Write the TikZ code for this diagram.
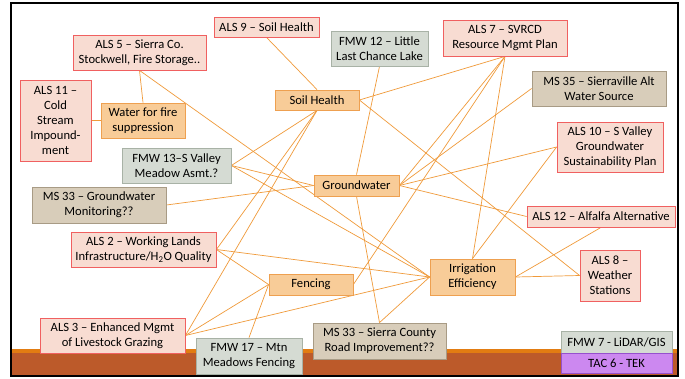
\documentclass[tikz,border=0pt]{standalone}
\usepackage{fontspec}
\setmainfont{Carlito}
\usetikzlibrary{backgrounds}

\definecolor{alsfill}{RGB}{248,220,210}
\definecolor{alsline}{RGB}{240,96,96}
\definecolor{topicfill}{RGB}{248,204,152}
\definecolor{topicline}{RGB}{238,160,80}
\definecolor{fmwfill}{RGB}{213,219,211}
\definecolor{fmwline}{RGB}{168,178,166}
\definecolor{msfill}{RGB}{216,205,186}
\definecolor{msline}{RGB}{168,155,133}
\definecolor{tacfill}{RGB}{204,136,240}
\definecolor{tacline}{RGB}{150,80,205}
\definecolor{linkcol}{RGB}{240,154,58}
\definecolor{bandorange}{RGB}{226,124,18}
\definecolor{bandbrown}{RGB}{188,90,42}

\begin{document}
\begin{tikzpicture}[x = 1pt, y = -1pt,
  boxsize/.style 2 args = {minimum width = #1pt, minimum height = #2pt},
  box/.style = {draw, line width = .8pt, align = center, inner sep = 0pt, font = \fontsize{12.6}{15}\selectfont},
  als/.style = {box, fill = alsfill, draw = alsline},
  topic/.style = {box, fill = topicfill, draw = topicline},
  fmw/.style = {box, fill = fmwfill, draw = fmwline},
  ms/.style = {box, fill = msfill, draw = msline},
  tac/.style = {box, fill = tacfill, draw = tacline},
  link/.style = {draw = linkcol, line width = .7pt}]

\useasboundingbox (0, 0) rectangle (685, 378);

\node[als, boxsize = {105}{20}] (als9) at (266.5, 27) {ALS 9 -- Soil Health};
\node[als, boxsize = {133}{35}] (als5) at (139.5, 52.5) {ALS 5 -- Sierra Co.\\Stockwell, Fire Storage..};
\node[fmw, boxsize = {97}{35}] (fmw12) at (379.5, 48.5) {FMW 12 -- Little\\Last Chance Lake};
\node[als, boxsize = {124}{36}] (als7) at (505, 38) {ALS 7 -- SVRCD\\Resource Mgmt Plan};
\node[als, boxsize = {71}{81}] (als11) at (55.5, 120.5) {ALS 11 --\\Cold\\Stream\\Impound-\\ment};
\node[topic, boxsize = {84}{35}] (water) at (143, 120.5) {Water for fire\\suppression};
\node[topic, boxsize = {84}{20}] (soil) at (317, 100) {Soil Health};
\node[ms, boxsize = {134}{35}] (ms35) at (599, 88.5) {MS 35 -- Sierraville Alt\\Water Source};
\node[als, boxsize = {106}{50}] (als10) at (610, 147) {ALS 10 -- S Valley\\Groundwater\\Sustainability Plan};
\node[fmw, boxsize = {109}{35}] (fmw13) at (176.5, 165.5) {FMW 13--S Valley\\Meadow Asmt.?};
\node[topic, boxsize = {85}{21}] (gw) at (356.5, 185.5) {Groundwater};
\node[ms, boxsize = {134}{36}] (ms33gw) at (99, 205) {MS 33 -- Groundwater\\Monitoring??};
\node[als, boxsize = {148}{21}] (als12) at (601, 216.5) {ALS 12 -- Alfalfa Alternative};
\node[als, boxsize = {145}{35}] (als2) at (143.5, 249.5) {ALS 2 -- Working Lands\\Infrastructure/H\textsubscript{2}O Quality};
\node[als, boxsize = {60}{51}] (als8) at (610, 275.5) {ALS 8 --\\Weather\\Stations};
\node[topic, boxsize = {85}{36}] (irr) at (472.5, 277) {Irrigation\\Efficiency};
\node[topic, boxsize = {84}{21}] (fence) at (311, 284.5) {Fencing};
\node[als, boxsize = {145}{35}] (als3) at (112.5, 335.5) {ALS 3 -- Enhanced Mgmt\\of Livestock Grazing};
\node[fmw, boxsize = {106}{36}] (fmw17) at (249, 356) {FMW 17 -- Mtn\\Meadows Fencing};
\node[ms, boxsize = {133}{36}] (ms33rd) at (379.5, 341) {MS 33 -- Sierra County\\Road Improvement??};
\node[fmw, boxsize = {111}{22}] (fmw7) at (616.5, 342) {FMW 7 - LiDAR/GIS};
\node[tac, boxsize = {111}{20}] (tac6) at (616.5, 363) {TAC 6 - TEK};

\begin{scope}[on background layer]
\fill[white] (0, 0) rectangle (685, 378);
\fill[bandorange] (11, 349) rectangle (678, 353);
\fill[bandbrown] (11, 353) rectangle (678, 375);

\draw[link] (als9.south) -- (soil.north);
\draw[link] (als5.south) -- (water.north);
\draw[link] (als11.east) -- (water.west);
\draw[link] (als5.south) -- (irr.west);
\draw[link] (soil.south) -- (fmw13.east);
\draw[link] (soil.south) -- (als2.east);
\draw[link] (soil.south) -- (als3.east);
\draw[link] (soil.east) -- (als7.south);
\draw[link] (soil.east) -- (als8.west);
\draw[link] (fmw12.south) -- (gw.north);
\draw[link] (gw.south) -- (ms33rd.north);
\draw[link] (fmw13.east) -- (gw.west);
\draw[link] (fmw13.east) -- (irr.west);
\draw[link] (ms33gw.east) -- (gw.west);
\draw[link] (gw.east) -- (als7.south);
\draw[link] (gw.east) -- (ms35.west);
\draw[link] (gw.east) -- (als10.west);
\draw[link] (gw.east) -- (als12.west);
\draw[link] (als10.west) -- (irr.north);
\draw[link] (als7.south) -- (irr.north);
\draw[link] (als12.south) -- (irr.east);
\draw[link] (irr.east) -- (als8.west);
\draw[link] (als2.east) -- (irr.west);
\draw[link] (als2.east) -- (fence.west);
\draw[link] (als3.east) -- (fence.west);
\draw[link] (als3.east) -- (irr.west);
\draw[link] (fmw17.north) -- (fence.west);
\draw[link] (fence.east) -- (als7.south);
\draw[link] (ms33rd.north) -- (irr.west);
\end{scope}

\draw[line width = 2pt] (11, 3) rectangle (678, 376);

\end{tikzpicture}
\end{document}
